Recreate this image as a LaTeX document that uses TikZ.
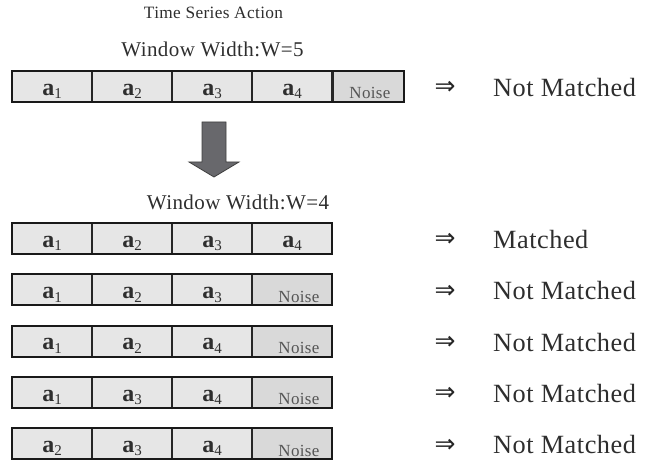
\documentclass[tikz,border=0pt]{standalone}
\usepackage{fontspec}
\setmainfont{Liberation Serif}
\newfontfamily\trk[LetterSpace=2]{Liberation Serif}
\newfontfamily\symf{DejaVu Sans}
\definecolor{cellgray}{HTML}{E6E6E6}
\definecolor{noisegray}{HTML}{D9D9D9}
\definecolor{ink}{HTML}{2E2E2E}
\definecolor{noiseink}{HTML}{555555}
\definecolor{arrowfill}{HTML}{68686C}
\newcommand\albl[1]{{\bfseries a}\raisebox{-3.5pt}{\fontsize{15}{15}\selectfont #1}}
\begin{document}
\begin{tikzpicture}[x=1pt,y=-1pt,
  cell/.style={draw=black!85, line width=1.1pt, fill=cellgray,
    minimum width=80pt, minimum height=31pt, inner sep=0pt, outer sep=0pt,
    anchor=north west, text height=17.5pt, text depth=0pt, text=ink,
    font=\fontsize{24}{24}\selectfont},
  noisecell/.style={cell, fill=noisegray, text height=25pt, text=noiseink,
    font=\trk\fontsize{17}{18}\selectfont},
  frame/.style={draw=black!90, line width=2pt},
  heading/.style={anchor=base, text=ink, inner sep=0pt},
  result/.style={anchor=base west, text=ink, inner sep=0pt,
    font=\trk\fontsize{26.3}{27}\selectfont},
  implies/.style={anchor=base, text=black!85, inner sep=0pt, font=\symf\fontsize{25}{26}\selectfont},
  blockarrow/.style={fill=arrowfill, draw=black!75, line width=0.8pt, line join=miter}
]
\useasboundingbox (0,0) rectangle (648,465);

% headings
\node[heading, font=\trk\fontsize{17.3}{18}\selectfont] (ttl) at (213.5,19) {Time Series Action};
\node[heading, font=\trk\fontsize{21}{22}\selectfont] (wfive) at (212.5,57) {Window Width:W=5};
\node[heading, font=\trk\fontsize{21}{22}\selectfont] (wfour) at (238,210) {Window Width:W=4};

% window of width 5
\node[cell] (t1) at (12,71) {\albl{1}};
\node[cell] (t2) at (92,71) {\albl{2}};
\node[cell] (t3) at (172,71) {\albl{3}};
\node[cell] (t4) at (252,71) {\albl{4}};
\node[noisecell, minimum width=71pt, xshift=1pt] (t5) at (332,71) {\hspace{3pt}Noise};
\draw[frame] (t1.north west) rectangle (t5.south east);
\node[implies] (timp) at (445,95) {⇒};
\node[result] (tres) at (493,96.5) {Not Matched};

% shrinking the window
\draw[blockarrow] (202,122) -- (226,122) -- (226,162) -- (239,162) -- (214,177)
  -- (189,162) -- (202,162) -- cycle;

% windows of width 4
\foreach \i/\ya/\a/\b/\c/\d/\res in {
  1/223/1/2/3/4/Matched,
  2/274.3/1/2/3/N/Not Matched,
  3/325.5/1/2/4/N/Not Matched,
  4/376.8/1/3/4/N/Not Matched,
  5/428/2/3/4/N/Not Matched}{
  \node[cell] (r\i c1) at (12,\ya) {\albl{\a}};
  \node[cell] (r\i c2) at (92,\ya) {\albl{\b}};
  \node[cell] (r\i c3) at (172,\ya) {\albl{\c}};
  \if N\d
    \node[noisecell] (r\i c4) at (252,\ya) {\hspace{14pt}Noise};
  \else
    \node[cell] (r\i c4) at (252,\ya) {\albl{\d}};
  \fi
  \draw[frame] (r\i c1.north west) rectangle (r\i c4.south east);
  \node[implies] (r\i imp) at (445,\ya+24) {⇒};
  \node[result] (r\i res) at (493,\ya+25.5) {\res};
}
\end{tikzpicture}
\end{document}
